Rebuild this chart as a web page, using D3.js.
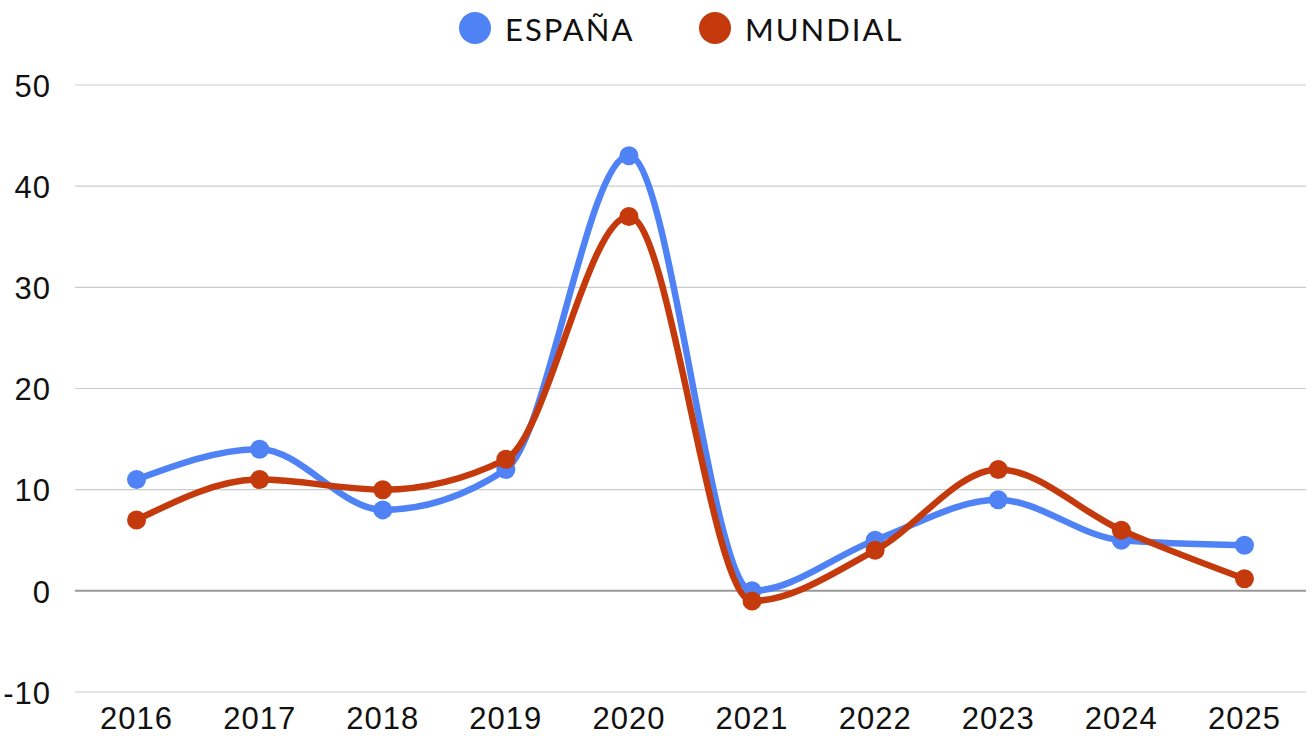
<!DOCTYPE html>
<html>
<head>
<style type="text/css">
  body{
    margin: 0;
    background: white;
    font-family: 'Lato', 'Open Sans', sans-serif;
  }
  .tick text{
    fill: #111;
    font-size: 31px;
    letter-spacing: 1px;
  }
</style>
</head>
<body>
<script src="https://cdn.jsdelivr.net/npm/d3@7"></script>
<svg id="chart"></svg>
<script>

var years = ['2016','2017','2018','2019','2020','2021','2022','2023','2024','2025'];
var espana = [11, 14, 8, 12, 43, 0, 5, 9, 5, 4.5];
var mundial = [7, 11, 10, 13, 37, -1, 4, 12, 6, 1.2];
var yTicks = [-10, 0, 10, 20, 30, 40, 50];

var seriesNames = ['ESPAÑA', 'MUNDIAL'];
var colors = ['#4f83f5', '#c43a0c'];

var width = 1314;
var height = 736;

var svg = d3.select('#chart')
  .attr('width', width)
  .attr('height', height);

var x = d3.scaleBand()
  .domain(years)
  .range([75, 1306]);

var y = d3.scaleLinear()
  .domain([-10, 50])
  .range([692, 85]);

// gridlines
svg.append('g')
  .selectAll('line')
  .data(yTicks)
  .enter()
  .append('line')
  .attr('x1', 75)
  .attr('x2', 1306)
  .attr('y1', function(d) { return y(d); })
  .attr('y2', function(d) { return y(d); })
  .attr('stroke', function(d) { return d === 0 ? '#999' : '#ccc'; })
  .attr('stroke-width', function(d) { return d === 0 ? 2 : 1.2; });

// y axis
var yAxis = svg.append('g')
  .attr('transform', 'translate(51,0)')
  .call(d3.axisLeft(y).tickValues(yTicks).tickSize(0).tickPadding(0)
    .tickFormat(function(d) { return d < 0 ? '-' + Math.abs(d) : d; }));
yAxis.select('.domain').remove();
yAxis.selectAll('text').attr('dy', '0.36em');

// x axis
var xAxis = svg.append('g')
  .attr('transform', 'translate(0,703)')
  .call(d3.axisBottom(x).tickSize(0).tickPadding(4));
xAxis.select('.domain').remove();

var line = d3.line()
  .x(function(d, i) { return x(years[i]) + x.bandwidth() / 2; })
  .y(function(d) { return y(d); })
  .curve(d3.curveMonotoneX);

[espana, mundial].forEach(function(data, k) {
  var g = svg.append('g');
  g.append('path')
    .datum(data)
    .attr('d', line)
    .attr('fill', 'none')
    .attr('stroke', colors[k])
    .attr('stroke-width', 6.5);
  g.selectAll('circle')
    .data(data)
    .enter()
    .append('circle')
    .attr('cx', function(d, i) { return x(years[i]) + x.bandwidth() / 2; })
    .attr('cy', function(d) { return y(d); })
    .attr('r', 9.5)
    .attr('fill', colors[k]);
});

// legend
var legendX = [475, 715];
var legend = svg.append('g');
seriesNames.forEach(function(name, k) {
  legend.append('circle')
    .attr('cx', legendX[k])
    .attr('cy', 28)
    .attr('r', 16)
    .attr('fill', colors[k]);
  legend.append('text')
    .attr('x', legendX[k] + 30)
    .attr('y', 30)
    .attr('dy', '0.36em')
    .attr('font-size', 31)
    .attr('fill', '#111')
    .style('letter-spacing', '2px')
    .text(name);
});

</script>
</body>
</html>
